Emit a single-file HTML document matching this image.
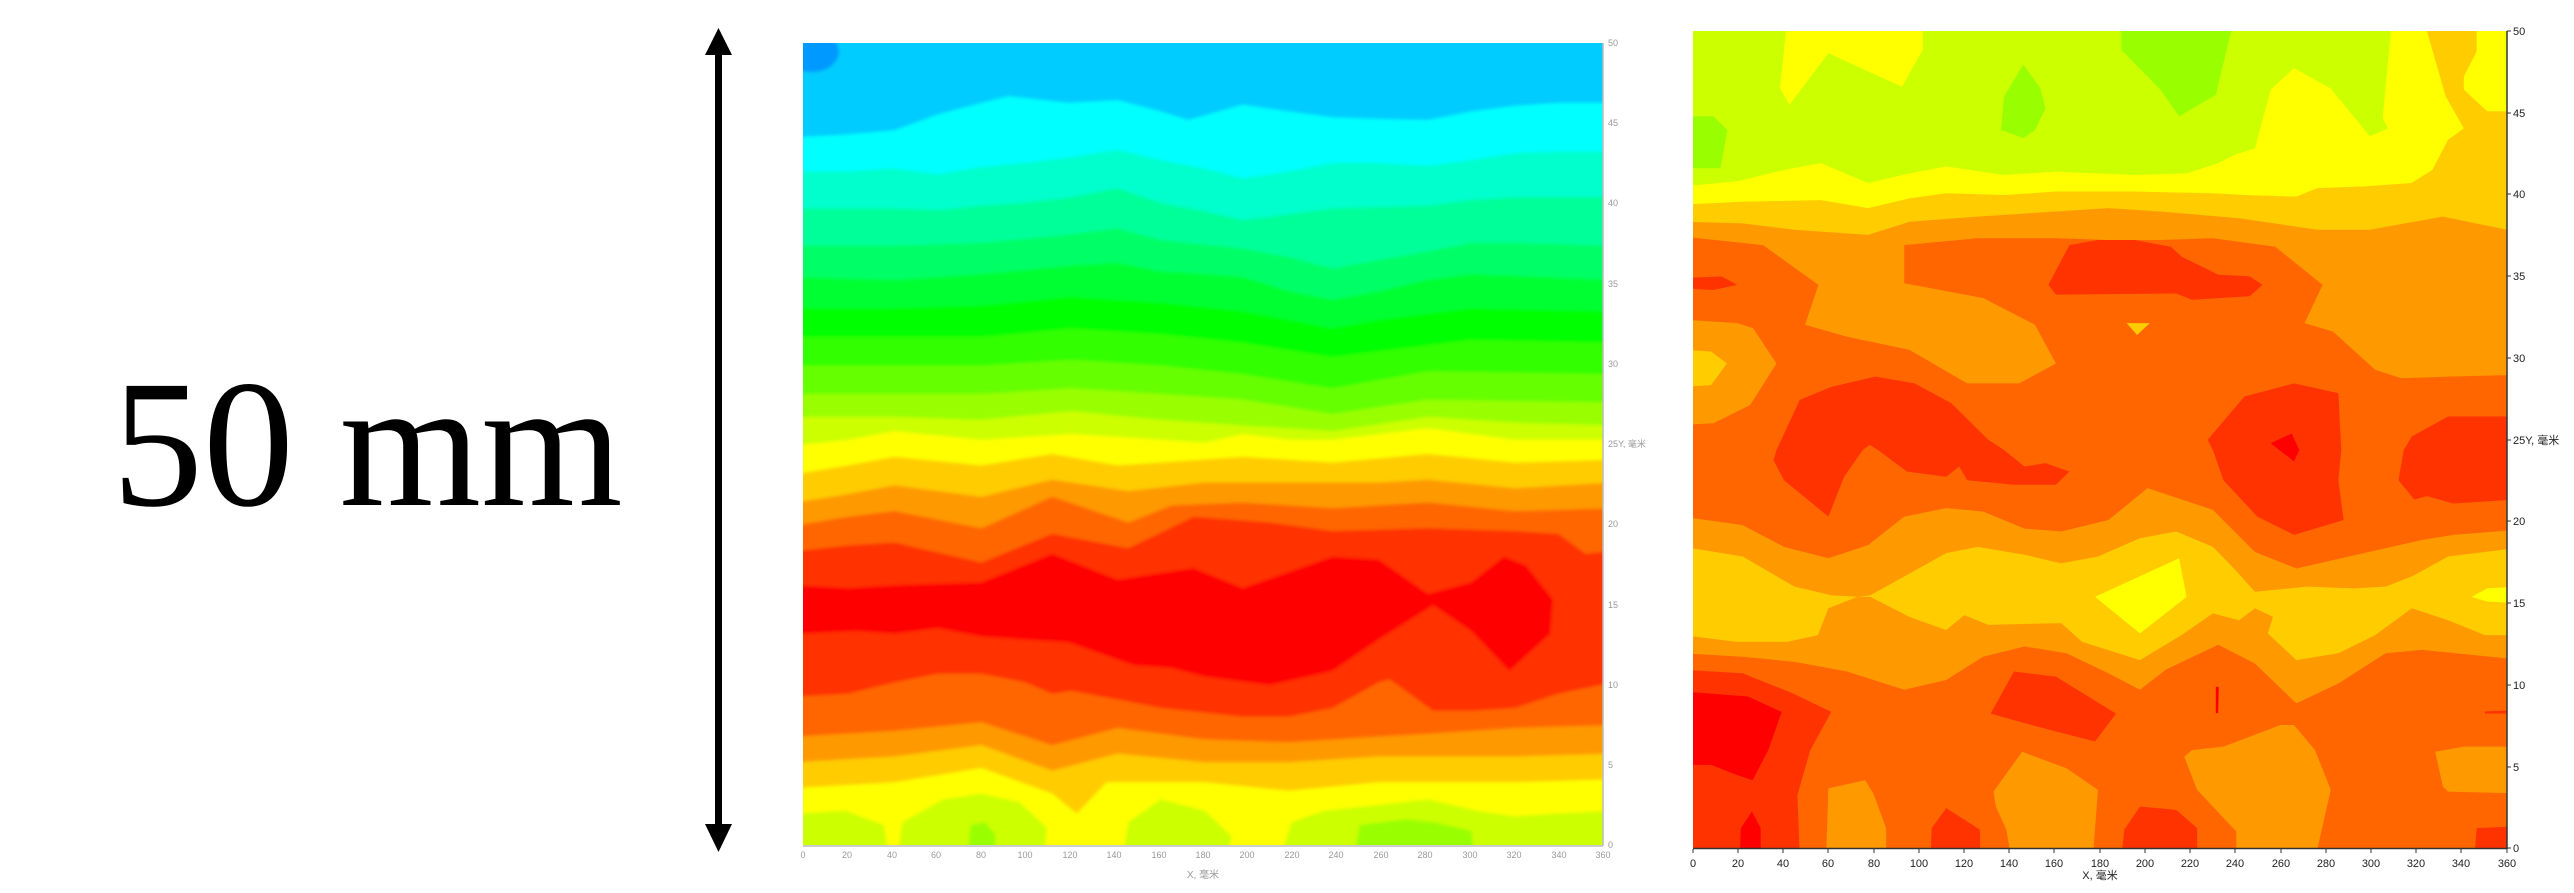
<!DOCTYPE html>
<html><head><meta charset="utf-8"><style>
html,body{margin:0;padding:0;background:#fff;width:2574px;height:893px;overflow:hidden}
svg{display:block}
</style></head><body>
<svg width="2574" height="893" viewBox="0 0 2574 893" xmlns="http://www.w3.org/2000/svg">
<rect width="2574" height="893" fill="#fff"/>
<text x="112" y="505" font-family="Liberation Serif, serif" font-size="182" fill="#000">50 mm</text>
<rect x="715" y="52" width="7" height="775" fill="#000"/>
<polygon points="718.5,28 705,55 732,55" fill="#000"/>
<polygon points="718.5,852 705,824 732,824" fill="#000"/>

<defs><filter id="bl" x="-2%" y="-2%" width="104%" height="104%"><feGaussianBlur stdDeviation="3"/></filter></defs>
<svg x="803" y="43" width="800" height="802" viewBox="42 75 1470 1405" preserveAspectRatio="none">
<g filter="url(#bl)">
<rect x="30" y="60" width="1500" height="1440" fill="#00ccff"/>
<ellipse cx="58" cy="90" rx="50" ry="36" fill="#0099ff"/>
<polygon fill="#00ffff" points="30,240 125,235 210,228 290,200 370,180 420,168 530,180 620,175 700,195 750,210 850,183 935,195 1015,205 1100,208 1190,210 1270,195 1350,185 1430,180 1530,180 1530,1500 30,1500"/>
<polygon fill="#00ffcc" points="30,300 125,300 210,295 290,305 370,292 450,285 535,275 620,262 700,280 780,295 850,312 935,300 1015,285 1100,285 1190,290 1270,280 1350,268 1430,265 1530,265 1530,1500 30,1500"/>
<polygon fill="#00ff99" points="30,365 210,365 290,368 370,360 450,355 535,345 620,330 700,355 780,370 850,385 935,375 1015,365 1100,362 1190,360 1270,350 1350,345 1530,345 1530,1500 30,1500"/>
<polygon fill="#00ff66" points="30,430 210,430 370,425 450,418 535,410 620,400 700,420 780,428 850,435 935,450 1015,470 1100,455 1190,440 1270,425 1350,425 1530,430 1530,1500 30,1500"/>
<polygon fill="#00ff33" points="30,485 210,490 370,480 535,465 620,460 700,475 780,480 850,485 935,510 1015,525 1100,510 1190,490 1270,480 1530,490 1530,1500 30,1500"/>
<polygon fill="#00ff00" points="30,540 210,540 370,535 535,520 700,530 850,545 935,560 1015,575 1100,560 1270,540 1530,545 1530,1500 30,1500"/>
<polygon fill="#33ff00" points="30,590 370,590 535,575 700,585 850,600 1015,625 1100,615 1270,595 1530,600 1530,1500 30,1500"/>
<polygon fill="#66ff00" points="30,640 370,640 535,630 700,640 850,655 1015,680 1190,650 1530,655 1530,1500 30,1500"/>
<polygon fill="#99ff00" points="30,690 370,690 535,680 700,690 850,700 1015,725 1190,700 1530,705 1530,1500 30,1500"/>
<polygon fill="#ccff00" points="30,730 210,730 370,735 535,720 700,735 850,745 1015,755 1190,730 1350,740 1530,745 1530,1500 30,1500"/>
<polygon fill="#ffff00" points="30,780 125,770 210,755 370,770 535,760 620,765 780,775 850,760 935,770 1015,770 1190,750 1350,770 1530,770 1530,1500 30,1500"/>
<polygon fill="#ffcc00" points="30,830 125,815 210,800 370,815 500,795 620,815 700,810 850,800 1015,810 1190,795 1350,810 1530,805 1530,1500 30,1500"/>
<polygon fill="#ff9900" points="30,880 125,865 210,850 370,870 500,840 640,860 780,845 935,845 1100,845 1190,840 1350,855 1530,845 1530,1500 30,1500"/>
<polygon fill="#ff6600" points="30,920 125,905 210,895 370,925 500,870 640,915 720,885 850,880 1015,890 1190,880 1350,895 1530,890 1530,1500 30,1500"/>
<polygon fill="#ff3300" points="30,965 125,955 210,950 370,985 500,935 640,960 760,905 900,915 1015,930 1190,925 1350,930 1430,935 1480,970 1530,965 1530,1500 30,1500"/>
<polygon fill="#ff0000" points="30,1025 125,1030 210,1025 370,1020 500,970 620,1015 760,995 850,1030 1015,975 1100,980 1190,1040 1270,1020 1330,975 1370,990 1420,1050 1415,1110 1340,1175 1270,1105 1200,1060 1100,1120 1015,1175 900,1200 780,1185 720,1170 650,1165 530,1125 370,1115 290,1100 210,1110 140,1105 30,1110"/>
<polygon fill="#ff6600" points="30,1220 125,1215 210,1195 290,1180 370,1180 450,1195 500,1215 535,1210 620,1225 700,1240 850,1255 935,1255 1015,1240 1100,1195 1120,1190 1200,1245 1270,1245 1350,1240 1430,1215 1530,1195 1530,1500 30,1500"/>
<polygon fill="#ff9900" points="30,1290 210,1280 370,1265 500,1305 620,1275 780,1295 935,1300 1100,1290 1190,1285 1350,1275 1530,1270 1530,1500 30,1500"/>
<polygon fill="#ffcc00" points="30,1335 210,1325 370,1305 500,1350 620,1320 780,1335 935,1335 1100,1325 1350,1325 1530,1320 1530,1500 30,1500"/>
<polygon fill="#ffff00" points="30,1380 210,1370 370,1345 500,1390 545,1425 600,1370 780,1370 935,1385 1100,1370 1350,1370 1530,1365 1530,1500 30,1500"/>
<polygon fill="#ccff00" points="30,1425 120,1420 190,1445 200,1500 30,1500"/>
<polygon fill="#ccff00" points="215,1500 225,1440 300,1400 370,1390 440,1405 490,1450 485,1500"/>
<polygon fill="#ccff00" points="630,1500 640,1440 700,1400 780,1420 830,1465 820,1500"/>
<polygon fill="#ccff00" points="920,1500 940,1440 1000,1420 1100,1410 1190,1400 1280,1420 1350,1430 1420,1425 1530,1420 1530,1500"/>
<polygon fill="#99ff00" points="345,1500 350,1445 375,1440 395,1460 395,1500"/>
<polygon fill="#99ff00" points="1055,1500 1065,1445 1150,1435 1200,1440 1270,1455 1275,1500"/>
</g>
</svg>
<g stroke="#bbb" stroke-width="1.5">
<line x1="803" y1="846" x2="1603" y2="846"/>
<line x1="1603" y1="43" x2="1603" y2="846"/>
</g>
<g fill="#999" font-family="Liberation Sans, sans-serif" font-size="9" text-anchor="middle">
<text x="803" y="858">0</text><text x="847" y="858">20</text><text x="892" y="858">40</text><text x="936" y="858">60</text><text x="981" y="858">80</text><text x="1025" y="858">100</text><text x="1070" y="858">120</text><text x="1114" y="858">140</text><text x="1159" y="858">160</text><text x="1203" y="858">180</text><text x="1247" y="858">200</text><text x="1292" y="858">220</text><text x="1336" y="858">240</text><text x="1381" y="858">260</text><text x="1425" y="858">280</text><text x="1470" y="858">300</text><text x="1514" y="858">320</text><text x="1559" y="858">340</text><text x="1603" y="858">360</text>
<text x="1203" y="878" font-size="10">X, 毫米</text>
</g>
<g fill="#999" font-family="Liberation Sans, 'Noto Sans CJK SC', sans-serif" font-size="9">
<text x="1608" y="46">50</text><text x="1608" y="126">45</text><text x="1608" y="206">40</text><text x="1608" y="287">35</text><text x="1608" y="367">30</text><text x="1608" y="447">25Y, 毫米</text><text x="1608" y="527">20</text><text x="1608" y="608">15</text><text x="1608" y="688">10</text><text x="1608" y="768">5</text><text x="1608" y="848">0</text>
</g>

<svg x="1693" y="31" width="814" height="817" viewBox="57 55 1395 1435" preserveAspectRatio="none">
<rect x="40" y="40" width="1430" height="1470" fill="#ff6600"/>
<polygon fill="#ff9900" points="40,40 1470,40 1470,659 1351,662 1271,665 1226,650 1154,583 1105,568 1136,501 1055,434 948,419 858,422 769,422 679,419 545,419 419,431 419,498 554,524 643,571 679,639 616,674 527,674 428,615 321,592 249,571 272,501 177,431 40,416"/>
<polygon fill="#ffcc00" points="40,40 1470,40 1470,404 1452,404 1342,381 1217,404 1127,404 993,384 858,372 769,366 679,372 545,381 428,390 357,413 231,404 142,393 40,390"/>
<polygon fill="#ffff00" points="40,40 1315,40 1315,56 1347,170 1378,226 1351,246 1324,299 1288,322 1208,328 1127,331 1091,346 1002,343 948,340 814,337 679,337 590,343 491,340 428,349 357,366 276,352 142,355 40,360"/>
<polygon fill="#ffff00" points="1400,40 1470,40 1470,196 1418,196 1378,158 1378,135 1400,91"/>
<polygon fill="#ccff00" points="40,40 1253,40 1253,56 1239,208 1248,226 1217,240 1150,156 1087,120 1047,158 1020,261 984,273 957,287 903,305 814,308 679,302 590,308 491,293 428,305 357,322 276,287 213,299 133,319 40,328"/>
<polygon fill="#ffff00" points="218,40 451,40 451,88 415,153 289,94 222,185 206,155"/>
<polygon fill="#99ff00" points="791,40 979,40 979,56 953,167 890,205 858,158 791,88"/>
<polygon fill="#99ff00" points="623,114 652,155 661,191 643,229 623,243 585,229 590,170"/>
<polygon fill="#99ff00" points="40,205 92,205 116,229 104,296 40,296"/>
<polygon fill="#ff3300" points="40,489 106,486 133,501 92,510 40,507"/>
<polygon fill="#ff3300" points="702,431 751,422 814,422 876,434 894,451 957,483 1011,486 1033,501 1011,521 912,527 885,516 679,518 666,501"/>
<polygon fill="#ffcc00" points="800,568 840,568 818,589"/>
<polygon fill="#ff9900" points="40,562 133,568 160,577 200,639 155,712 92,744 40,747"/>
<polygon fill="#ffcc00" points="40,615 88,618 115,639 88,677 40,680"/>
<polygon fill="#ff3300" points="200,791 240,703 294,680 370,662 437,674 500,709 563,773 590,791 625,820 661,814 702,829 679,852 607,852 527,844 513,820 491,838 424,829 374,791 360,782 348,791 316,838 289,908 213,844 195,809"/>
<polygon fill="#ff3300" points="939,773 1002,697 1087,674 1163,691 1168,791 1163,844 1172,914 1087,940 1024,908 966,844 948,791"/>
<polygon fill="#ff0000" points="1047,779 1083,762 1096,791 1087,811"/>
<polygon fill="#ff3300" points="1275,791 1289,767 1351,732 1470,732 1470,879 1452,879 1360,885 1315,872 1293,878 1266,844"/>
<polygon fill="#ff9900" points="40,908 142,923 213,961 289,981 357,958 419,908 491,893 554,899 625,929 688,934 769,914 836,858 948,896 1020,970 1091,999 1181,978 1306,949 1360,940 1470,931 1470,1157 1452,1157 1306,1142 1244,1148 1163,1201 1091,1236 1020,1166 957,1133 867,1177 823,1212 769,1183 697,1148 625,1136 554,1154 491,1195 419,1212 321,1180 231,1163 142,1154 40,1148"/>
<polygon fill="#ffcc00" points="40,961 142,978 231,1031 294,1046 339,1049 361,1046 428,1008 491,972 545,961 625,975 688,990 751,978 823,946 885,934 948,961 984,999 1020,1040 1109,1031 1190,1034 1244,1031 1289,1013 1351,978 1470,963 1470,1116 1414,1116 1351,1090 1289,1069 1226,1116 1163,1148 1091,1160 1042,1113 1051,1084 1020,1069 993,1090 948,1078 894,1116 823,1160 724,1128 688,1095 563,1098 522,1081 491,1107 428,1084 361,1049 339,1049 289,1069 271,1116 218,1128 133,1128 40,1116"/>
<polygon fill="#ffff00" points="746,1049 890,981 903,1049 823,1113"/>
<polygon fill="#ffff00" points="1391,1049 1418,1034 1470,1031 1470,1060 1418,1057"/>
<polygon fill="#ff3300" points="40,1177 142,1183 227,1218 294,1251 258,1318 236,1397 240,1510 40,1510"/>
<polygon fill="#ff0000" points="40,1215 151,1224 209,1251 186,1318 159,1371 133,1362 88,1344 40,1344"/>
<polygon fill="#ff0000" points="137,1510 139,1455 158,1426 173,1455 173,1510"/>
<polygon fill="#ff9900" points="289,1385 352,1371 366,1394 388,1455 388,1510 285,1510"/>
<polygon fill="#ff3300" points="464,1510 466,1455 491,1420 549,1458 549,1510"/>
<polygon fill="#ff3300" points="567,1254 607,1180 679,1189 782,1254 746,1303 670,1283 616,1268"/>
<polygon fill="#ff9900" points="572,1391 621,1321 697,1350 751,1388 742,1510 603,1510 594,1458 576,1417"/>
<polygon fill="#ff3300" points="791,1510 796,1458 823,1417 885,1423 921,1455 921,1510"/>
<polygon fill="#ff9900" points="899,1330 912,1318 966,1312 1064,1274 1087,1274 1123,1318 1150,1388 1123,1510 988,1510 988,1461 921,1388"/>
<polygon fill="#ff9900" points="1329,1321 1378,1312 1470,1312 1470,1394 1351,1391 1342,1382"/>
<polygon fill="#ff3300" points="1396,1510 1400,1455 1470,1452 1470,1510"/>
<polygon fill="#ff0000" points="953,1207 958,1207 957,1253 953,1253"/>
<polygon fill="#ff3300" points="1414,1250 1470,1248 1470,1254 1414,1254"/>
</svg>
<g stroke="#333" stroke-width="1.5">
<line x1="1693" y1="848.5" x2="2507" y2="848.5"/>
<line x1="2507" y1="31" x2="2507" y2="849"/>
</g>
<g stroke="#333" stroke-width="1">
<path d="M2507,31h4M2507,113h4M2507,194h4M2507,276h4M2507,358h4M2507,440h4M2507,521h4M2507,603h4M2507,685h4M2507,767h4M2507,848h4"/>
<path d="M1693,849v4M1738,849v4M1783,849v4M1828,849v4M1874,849v4M1919,849v4M1964,849v4M2009,849v4M2054,849v4M2100,849v4M2145,849v4M2190,849v4M2235,849v4M2281,849v4M2326,849v4M2371,849v4M2416,849v4M2461,849v4M2507,849v4"/>
</g>
<g fill="#222" font-family="Liberation Sans, 'Noto Sans CJK SC', sans-serif" font-size="11">
<text x="2513" y="35">50</text><text x="2513" y="117">45</text><text x="2513" y="198">40</text><text x="2513" y="280">35</text><text x="2513" y="362">30</text><text x="2513" y="444">25Y, 毫米</text><text x="2513" y="525">20</text><text x="2513" y="607">15</text><text x="2513" y="689">10</text><text x="2513" y="771">5</text><text x="2513" y="852">0</text>
</g>
<g fill="#222" font-family="Liberation Sans, 'Noto Sans CJK SC', sans-serif" font-size="11" text-anchor="middle">
<text x="1693" y="867">0</text><text x="1738" y="867">20</text><text x="1783" y="867">40</text><text x="1828" y="867">60</text><text x="1874" y="867">80</text><text x="1919" y="867">100</text><text x="1964" y="867">120</text><text x="2009" y="867">140</text><text x="2054" y="867">160</text><text x="2100" y="867">180</text><text x="2145" y="867">200</text><text x="2190" y="867">220</text><text x="2235" y="867">240</text><text x="2281" y="867">260</text><text x="2326" y="867">280</text><text x="2371" y="867">300</text><text x="2416" y="867">320</text><text x="2461" y="867">340</text><text x="2507" y="867">360</text>
<text x="2100" y="879">X, 毫米</text>
</g>
</svg>
</body></html>
